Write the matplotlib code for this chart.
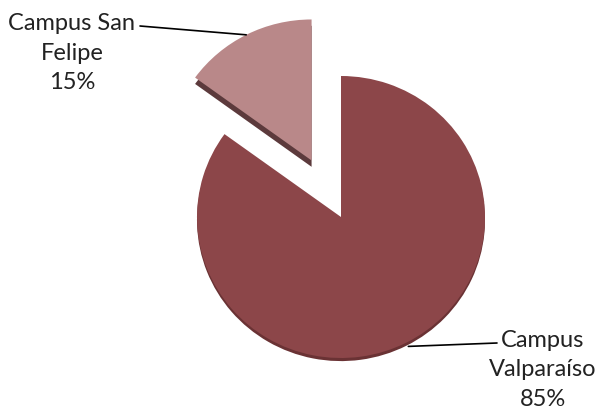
import numpy as np
import matplotlib.pyplot as plt

labels = ["Campus San\nFelipe", "Campus\nValparaíso"]
shares = [15, 85]
explode = [0.45, 0.0]
colors = ["#b98889", "#8c4649"]
side_colors = ["#5c3a3c", "#6a3234"]

W, H = 605, 414
sx, sy = 144.0, 141.0      # pixels per unit
cx, cy = 341.0, 196.0      # pie centre, pixels from bottom-left

fig = plt.figure(figsize=(W / 100, H / 100), dpi=100)
ax = fig.add_axes([0, 0, 1, 1])
ax.axis("off")

# side face (fake 3D depth): thicker under the small slice, thin under the big one
ax.pie([shares[0], shares[1]], explode=explode, colors=[side_colors[0], "none"],
       startangle=90, center=(0, -0.045), wedgeprops=dict(linewidth=0))
ax.pie([shares[0], shares[1]], explode=explode, colors=["none", side_colors[1]],
       startangle=90, center=(0, -0.022), wedgeprops=dict(linewidth=0))
wedges, _ = ax.pie(shares, explode=explode, colors=colors, startangle=90,
                   wedgeprops=dict(linewidth=0))
ax.set_aspect("auto")
ax.set_xlim(-cx / sx, (W - cx) / sx)
ax.set_ylim(-cy / sy, (H - cy) / sy)

pcts = [f"{s}%" for s in shares]
text_pos = [(72, 53), (543, 370)]
line_end = [(140, 27), (497, 344)]
radial = [1.0, 1.03]
for w, lab, pct, tp, le, r in zip(wedges, labels, pcts, text_pos, line_end, radial):
    mid = np.deg2rad((w.theta1 + w.theta2) / 2)
    c = w.center
    p = (c[0] + r * np.cos(mid), c[1] + r * np.sin(mid))
    ax.annotate("", xy=p, xytext=(le[0], H - le[1]), textcoords="figure pixels",
                arrowprops=dict(arrowstyle="-", color="black", lw=1.2,
                                shrinkA=0, shrinkB=0))
    fig.text(tp[0] / W, 1 - tp[1] / H, lab + "\n" + pct, ha="center", va="center",
             fontsize=17, family="Lato", linespacing=1.5, color="#222222")

fig.savefig("out.png", dpi=100)
